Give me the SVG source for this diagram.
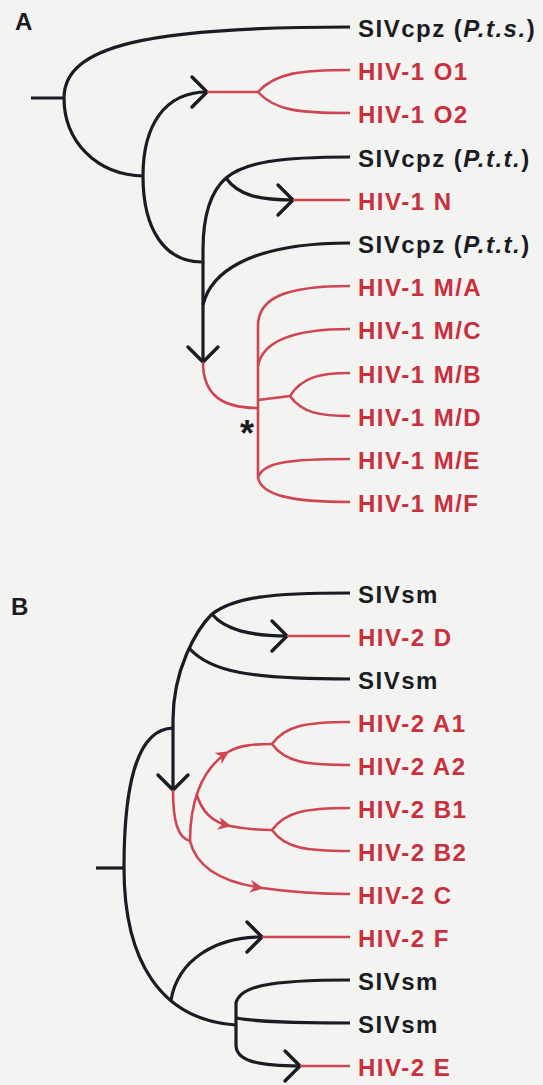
<svg xmlns="http://www.w3.org/2000/svg" width="543" height="1085" viewBox="0 0 543 1085">
<style>
.bg{fill:#f3f3f1}
.k{fill:none;stroke:#1b1b24;stroke-width:3.2;stroke-linecap:butt;stroke-linejoin:round}
.r{fill:none;stroke:#cf4552;stroke-width:2.6;stroke-linecap:butt;stroke-linejoin:round}
.lab{font-family:"Liberation Sans",Arial,sans-serif;font-weight:bold;font-size:24px;letter-spacing:1.5px}
.lk{fill:#1b1b24}
.lr{fill:#c8303d}
.pl{font-family:"Liberation Sans",Arial,sans-serif;font-weight:bold;font-size:24px;fill:#1b1b24}
.it{font-style:italic}
</style>
<defs>
<marker id="chev" viewBox="-20 -20 40 40" markerWidth="40" markerHeight="40" refX="0" refY="0" orient="auto" markerUnits="userSpaceOnUse" overflow="visible">
<path d="M-15,-15 L0,0 L-15,15" fill="none" stroke="#1b1b24" stroke-width="3.4" stroke-linecap="round" stroke-linejoin="miter"/>
</marker>
<marker id="rarr" viewBox="-14 -8 18 16" markerWidth="18" markerHeight="16" refX="0" refY="0" orient="auto" markerUnits="userSpaceOnUse" overflow="visible">
<path d="M-12,-6.5 L1.5,0 L-12,6.5 L-8,0 Z" fill="#cf4552"/>
</marker>
</defs>
<rect class="bg" x="0" y="0" width="543" height="1085"/>

<g id="connectors">
<!-- Panel A -->
<path class="k" d="M31,98 L64,98"/>
<path class="k" d="M64,98 C64,45 150,27 350,27"/>
<path class="k" d="M64,98 C64,140 95,175 144,176"/>
<path class="k" d="M202,262 C165,262 143,230 143,176 C143,125 165,92 207,92" marker-end="url(#chev)"/>
<path class="r" d="M207,92 L258,92"/>
<path class="r" d="M258,92 C275,73 300,70 350,70"/>
<path class="r" d="M258,92 C275,111 300,113 350,113"/>
<path class="k" d="M226,178 C210,192 203,215 203,250 L203,362" marker-end="url(#chev)"/>
<path class="k" d="M226,178 C245,162 280,157 350,157"/>
<path class="k" d="M226,178 C238,195 258,200 293,200" marker-end="url(#chev)"/>
<path class="r" d="M293,200 L350,200"/>
<path class="k" d="M203,305 C210,275 245,243 350,243"/>
<path class="r" d="M203,362 C203,395 222,408 258,408"/>
<path class="r" d="M258,326 L258,478"/>
<path class="r" d="M258,326 C258,298 285,286 350,286"/>
<path class="r" d="M258,366 C262,343 290,329 350,329"/>
<path class="r" d="M258,400 L290,396"/>
<path class="r" d="M290,396 C302,377 320,373 350,373"/>
<path class="r" d="M290,396 C302,413 320,416 350,416"/>
<path class="r" d="M258,478 C262,462 290,459 350,459"/>
<path class="r" d="M258,478 C262,495 290,502 350,502"/>
<!-- Panel B -->
<path class="k" d="M96,868 L124,868"/>
<path class="k" d="M124,868 C124,790 135,729 173,728"/>
<path class="k" d="M212,614 C196,630 173,670 173,720 L173,790" marker-end="url(#chev)"/>
<path class="k" d="M212,614 C235,597 270,593 350,593"/>
<path class="k" d="M212,614 C225,630 250,636 287,636" marker-end="url(#chev)"/>
<path class="r" d="M287,636 L350,636"/>
<path class="k" d="M189,648 C210,672 250,679 350,679"/>
<path class="r" d="M173,790 C173,822 178,838 190,841"/>
<path class="r" d="M190,841 C190,805 200,770 228,752" marker-end="url(#rarr)"/>
<path class="r" d="M228,752 C240,745 255,744 272,744"/>
<path class="r" d="M272,744 C285,726 305,722 350,722"/>
<path class="r" d="M272,744 C285,762 305,765 350,765"/>
<path class="r" d="M196.5,794 C202,812 212,822 230,826" marker-end="url(#rarr)"/>
<path class="r" d="M230,826 C245,829 258,830 272,830"/>
<path class="r" d="M272,830 C285,812 305,808 350,808"/>
<path class="r" d="M272,830 C285,848 305,851 350,851"/>
<path class="r" d="M190,841 C196,866 220,882 262,888" marker-end="url(#rarr)"/>
<path class="r" d="M262,888 C290,892 320,894 350,894"/>
<path class="k" d="M124,868 C124,960 160,1020 236,1025"/>
<path class="k" d="M171,1000 C178,960 215,937 262,937" marker-end="url(#chev)"/>
<path class="r" d="M262,937 L350,937"/>
<path class="k" d="M236,1025 L236,1003 C240,987 265,980 350,980"/>
<path class="k" d="M236,1018 C260,1022 290,1023 350,1023"/>
<path class="k" d="M236,1025 L236,1045 C236,1060 255,1066 300,1066" marker-end="url(#chev)"/>
<path class="r" d="M300,1066 L350,1066"/>
</g>

<g id="panel-labels">
<text class="pl" x="15" y="30">A</text>
<text class="pl" x="11" y="615">B</text>
<text x="247" y="446" text-anchor="middle" style="font-family:'Liberation Sans',Arial,sans-serif;font-weight:bold;font-size:36px;fill:#1b1b24">*</text>
</g>

<g id="siv-pts"><text class="lab lk" x="358" y="37">SIVcpz (<tspan class="it">P.t.s.</tspan>)</text></g>
<g id="hiv1-o1"><text class="lab lr" x="358" y="80">HIV-1 O1</text></g>
<g id="hiv1-o2"><text class="lab lr" x="358" y="123">HIV-1 O2</text></g>
<g id="siv-ptt-1"><text class="lab lk" x="358" y="167">SIVcpz (<tspan class="it">P.t.t.</tspan>)</text></g>
<g id="hiv1-n"><text class="lab lr" x="358" y="210">HIV-1 N</text></g>
<g id="siv-ptt-2"><text class="lab lk" x="358" y="253">SIVcpz (<tspan class="it">P.t.t.</tspan>)</text></g>
<g id="hiv1-ma"><text class="lab lr" x="358" y="296">HIV-1 M/A</text></g>
<g id="hiv1-mc"><text class="lab lr" x="358" y="339">HIV-1 M/C</text></g>
<g id="hiv1-mb"><text class="lab lr" x="358" y="383">HIV-1 M/B</text></g>
<g id="hiv1-md"><text class="lab lr" x="358" y="426">HIV-1 M/D</text></g>
<g id="hiv1-me"><text class="lab lr" x="358" y="469">HIV-1 M/E</text></g>
<g id="hiv1-mf"><text class="lab lr" x="358" y="512">HIV-1 M/F</text></g>

<g id="sivsm-1"><text class="lab lk" x="358" y="603">SIVsm</text></g>
<g id="hiv2-d"><text class="lab lr" x="358" y="646">HIV-2 D</text></g>
<g id="sivsm-2"><text class="lab lk" x="358" y="689">SIVsm</text></g>
<g id="hiv2-a1"><text class="lab lr" x="358" y="732">HIV-2 A1</text></g>
<g id="hiv2-a2"><text class="lab lr" x="358" y="775">HIV-2 A2</text></g>
<g id="hiv2-b1"><text class="lab lr" x="358" y="818">HIV-2 B1</text></g>
<g id="hiv2-b2"><text class="lab lr" x="358" y="861">HIV-2 B2</text></g>
<g id="hiv2-c"><text class="lab lr" x="358" y="904">HIV-2 C</text></g>
<g id="hiv2-f"><text class="lab lr" x="358" y="947">HIV-2 F</text></g>
<g id="sivsm-3"><text class="lab lk" x="358" y="990">SIVsm</text></g>
<g id="sivsm-4"><text class="lab lk" x="358" y="1033">SIVsm</text></g>
<g id="hiv2-e"><text class="lab lr" x="358" y="1076">HIV-2 E</text></g>
</svg>
